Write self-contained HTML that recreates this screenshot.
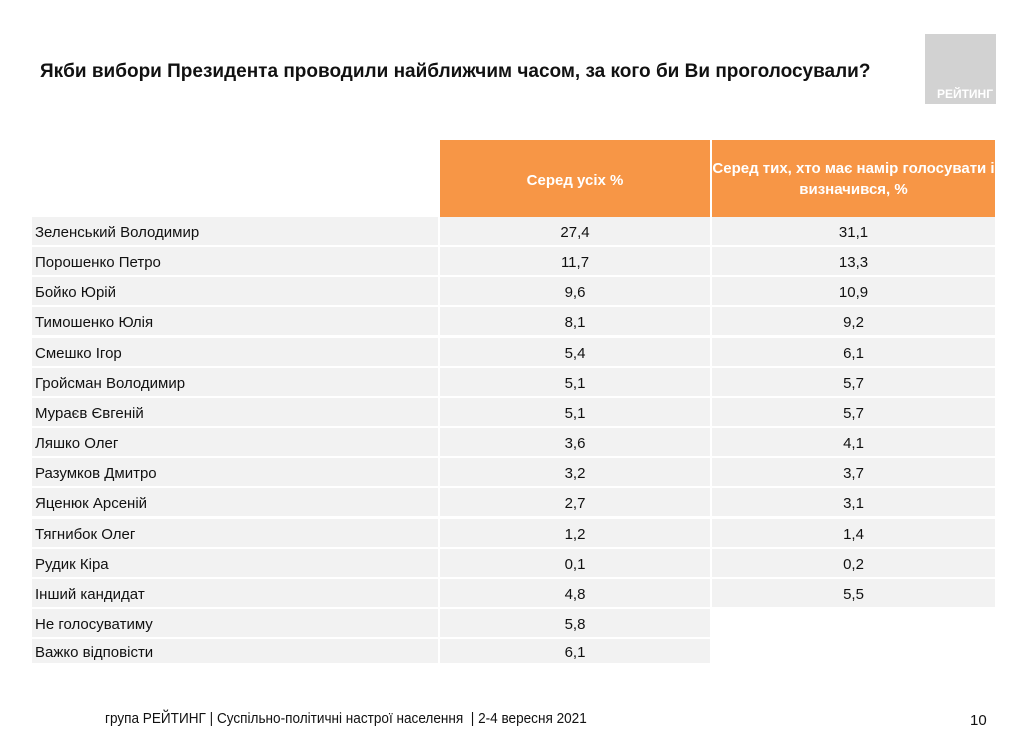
<!DOCTYPE html>
<html><head><meta charset="utf-8">
<style>
body{margin:0;width:1024px;height:732px;background:#fff;position:relative;overflow:hidden;font-family:"Liberation Sans","DejaVu Sans",sans-serif;color:#111}
.a{position:absolute}
.t{font-size:15px;white-space:nowrap}
.c{text-align:center}
</style></head><body>
<div class="a" style="left:40px;top:61px;font-size:19px;font-weight:bold;white-space:nowrap">Якби вибори Президента проводили найближчим часом, за кого би Ви проголосували?</div>
<div class="a" style="left:925px;top:34px;width:71px;height:70px;background:#d2d2d2"><div class="a" style="right:3px;bottom:3px;color:#fff;font-weight:bold;font-size:12px">РЕЙТИНГ</div></div>
<div class="a" style="left:440px;top:140px;width:270px;height:77px;background:#f79646;color:#fff;font-weight:bold;font-size:15px;display:flex;align-items:center;justify-content:center;padding-top:3px;box-sizing:border-box">Серед усіх %</div>
<div class="a" style="left:712px;top:140px;width:283px;height:77px;background:#f79646;color:#fff;font-weight:bold;font-size:15px;display:flex;align-items:center;justify-content:center;text-align:center;line-height:21px"><span style="display:inline-block;white-space:nowrap">Серед тих, хто має намір голосувати і<br>визначився, %</span></div>
<div id="tbl"></div>
<div class="a t" style="left:105px;top:710px;font-size:15px;transform:scaleX(0.905);transform-origin:left center">група РЕЙТИНГ | Суспільно-політичні настрої населення &nbsp;| 2-4 вересня 2021</div>
<div class="a" style="left:970px;top:712px;font-size:15px">10</div>
<script>
const names=["Зеленський Володимир","Порошенко Петро","Бойко Юрій","Тимошенко Юлія","Смешко Ігор","Гройсман Володимир","Мураєв Євгеній","Ляшко Олег","Разумков Дмитро","Яценюк  Арсеній","Тягнибок Олег","Рудик Кіра","Інший кандидат","Не голосуватиму","Важко відповісти"];
const allVals=["27,4","11,7","9,6","8,1","5,4","5,1","5,1","3,6","3,2","2,7","1,2","0,1","4,8","5,8","6,1"];
const decidedVals=["31,1","13,3","10,9","9,2","6,1","5,7","5,7","4,1","3,7","3,1","1,4","0,2","5,5"];
const tbl=document.getElementById('tbl');
function cell(x,y,w,h,txt,center,bg){
  const d=document.createElement('div');
  d.className='a';
  d.style.cssText=`left:${x}px;top:${y}px;width:${w}px;height:${h}px;background:${bg};`;
  const s=document.createElement('div');
  s.className='a t'+(center?' c':'');
  s.textContent=txt;
  s.style.cssText=center?`left:0;width:${w}px;top:${h/2-7}px`:`left:3px;top:${h/2-7}px`;
  d.appendChild(s);tbl.appendChild(d);return d;
}
names.forEach((n,i)=>{
  const y=Math.round(217+i*30.15);const h=i==names.length-1?24:28;
  let e=cell(32,y,406,h,n,false,'#f2f2f2');
  
  
  e=cell(440,y,270,h,allVals[i],true,'#f2f2f2');
  
  
  if(i<decidedVals.length){
    e=cell(712,y,283,h,decidedVals[i],true,'#f2f2f2');
    
    
  }
});
</script>
</body></html>
